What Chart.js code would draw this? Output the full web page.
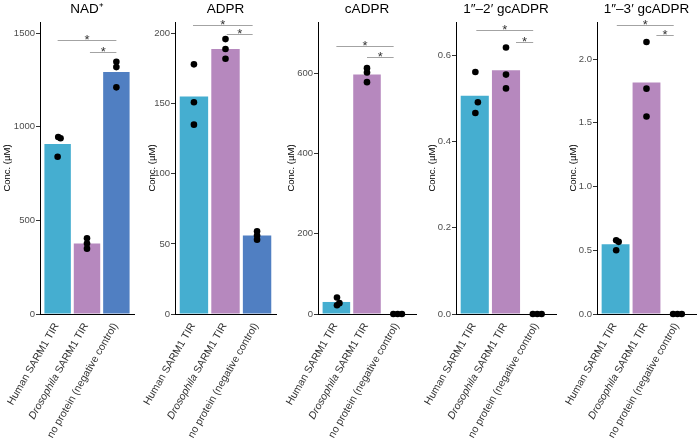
<!DOCTYPE html>
<html>
<head>
<meta charset="utf-8">
<script src="https://cdn.jsdelivr.net/npm/chart.js@4"></script>
<style>
  body { margin: 0; background: #fff; }
  #wrap { display: flex; width: 700px; height: 439px; }
  canvas { display: block; }
</style>
</head>
<body>
<div id="wrap">
  <canvas id="c0" width="140" height="439"></canvas>
  <canvas id="c1" width="140" height="439"></canvas>
  <canvas id="c2" width="140" height="439"></canvas>
  <canvas id="c3" width="140" height="439"></canvas>
  <canvas id="c4" width="140" height="439"></canvas>
</div>
<script>
const groups = ["Human SARM1 TIR", "Drosophila SARM1 TIR", "no protein (negative control)"];
const italicWords = ["Drosophila"];
const barColors = ["#45aed0", "#b688be", "#507fc2"];
const titles = ["NAD⁺", "ADPR", "cADPR", "1″–2′ gcADPR", "1″–3′ gcADPR"];

// bar heights (mean) and replicate dots
const nadBars = [908, 377, 1293];
const nadDots = [[946, 939, 840], [405, 376, 349], [1348, 1319, 1211]];
const adprBars = [155, 189, 56];
const adprDots = [[178, 151, 135], [196, 189, 182], [59, 56, 53]];
const cadprBars = [30, 597, 0];
const cadprDots = [[41, 27, 22], [613, 602, 578], [0, 0, 0]];
const gc12Bars = [0.506, 0.565, 0];
const gc12Dots = [[0.561, 0.491, 0.466], [0.618, 0.555, 0.523], [0, 0, 0]];
const gc13Bars = [0.548, 1.817, 0];
const gc13Dots = [[0.579, 0.566, 0.5], [2.134, 1.768, 1.55], [0, 0, 0]];

// small horizontal dodge of the dots (x units)
const nadJitter = [[0.02, 0.1, 0], [0, 0, 0], [0, 0, 0]];
const plainJitter = [[0, 0, 0], [0, 0, 0], [0, 0, 0]];
const zeroJitter = [[0.02, 0.1, 0.02], [0, 0, 0], [-0.14, 0, 0.14]];

// y axis ranges and tick labels
const nadMax = 1560, adprMax = 208.2, cadprMax = 728, gc12Max = 0.677, gc13Max = 2.291;
const nadTicks = ["0", "500", "1000", "1500"];
const adprTicks = ["0", "50", "100", "150", "200"];
const cadprTicks = ["0", "200", "400", "600"];
const gc12Ticks = ["0.0", "0.2", "0.4", "0.6"];
const gc13Ticks = ["0.0", "0.5", "1.0", "1.5", "2.0"];

// significance brackets: [from group, to group, height]
const nadSig = [[1, 3.0, 1462], [2.1, 3.0, 1398]];
const adprSig = [[0.97, 2.86, 206], [2.04, 2.86, 200]];
const cadprSig = [[1.0, 2.87, 667], [2.0, 2.87, 640]];
const gc12Sig = [[1.05, 2.87, 0.658], [2.32, 2.87, 0.630]];
const gc13Sig = [[1.04, 2.88, 2.268], [2.32, 2.88, 2.19]];

const panels = [
  { bars: nadBars, dots: nadDots, jit: nadJitter, max: nadMax, ticks: nadTicks, sig: nadSig, axisX: 40, padR: 6, titleX: 7 },
  { bars: adprBars, dots: adprDots, jit: plainJitter, max: adprMax, ticks: adprTicks, sig: adprSig, axisX: 35, padR: 3.5, titleX: 12 },
  { bars: cadprBars, dots: cadprDots, jit: zeroJitter, max: cadprMax, ticks: cadprTicks, sig: cadprSig, axisX: 38, padR: 1, titleX: 11 },
  { bars: gc12Bars, dots: gc12Dots, jit: zeroJitter, max: gc12Max, ticks: gc12Ticks, sig: gc12Sig, axisX: 36, padR: 2, titleX: 12 },
  { bars: gc13Bars, dots: gc13Dots, jit: zeroJitter, max: gc13Max, ticks: gc13Ticks, sig: gc13Sig, axisX: 37, padR: 1, titleX: 13 }
];

const FONT = "'Liberation Sans', Arial, sans-serif";

const decor = {
  id: "decor",
  afterDraw(chart, args, opts) {
    const { ctx, chartArea, scales: { x, y } } = chart;
    ctx.save();
    // panel title
    ctx.fillStyle = "#000";
    ctx.font = "13.5px " + FONT;
    ctx.textAlign = "center";
    ctx.textBaseline = "middle";
    ctx.fillText(opts.title, (chartArea.left + chartArea.right) / 2, 9);

    // significance brackets
    opts.sig.forEach(s => {
      const x1 = x.getPixelForValue(s[0]), x2 = x.getPixelForValue(s[1]);
      const py = Math.round(y.getPixelForValue(s[2])) + 0.5;
      ctx.strokeStyle = "#999";
      ctx.lineWidth = 0.9;
      ctx.beginPath();
      ctx.moveTo(x1, py);
      ctx.lineTo(x2, py);
      ctx.stroke();
      ctx.fillStyle = "#333";
      ctx.font = "13px " + FONT;
      ctx.textBaseline = "alphabetic";
      ctx.fillText("*", (x1 + x2) / 2, py + 3);
    });

    // rotated group labels, italic genus name
    ctx.fillStyle = "#333";
    ctx.textBaseline = "middle";
    ctx.textAlign = "left";
    groups.forEach((g, i) => {
      const px = x.getPixelForValue(i + 1);
      const parts = [];
      let rest = g;
      italicWords.forEach(w => {
        if (rest.startsWith(w)) { parts.push([w, true]); rest = rest.slice(w.length); }
      });
      parts.push([rest, false]);
      let total = 0;
      parts.forEach(p => {
        ctx.font = (p[1] ? "italic " : "") + "10.5px " + FONT;
        total += ctx.measureText(p[0]).width;
      });
      ctx.save();
      ctx.translate(px - 1, chartArea.bottom + 10);
      ctx.rotate(-Math.PI / 3);
      let cx = -total;
      parts.forEach(p => {
        ctx.font = (p[1] ? "italic " : "") + "10.5px " + FONT;
        ctx.fillText(p[0], cx, 0);
        cx += ctx.measureText(p[0]).width;
      });
      ctx.restore();
    });
    ctx.restore();
  }
};

panels.forEach((p, k) => {
  const step = p.max < 1 ? 0.2 : (p.max < 3 ? 0.5 : (p.max < 300 ? 50 : (p.max < 1000 ? 200 : 500)));
  const barData = p.bars.map((v, i) => ({ x: i + 1, y: v }));
  const dotData = [];
  p.dots.forEach((arr, i) => arr.forEach((v, j) => dotData.push({ x: i + 1 + p.jit[i][j], y: v })));

  new Chart(document.getElementById("c" + k), {
    type: "bar",
    data: {
      datasets: [
        {
          type: "bar",
          data: barData,
          backgroundColor: barColors,
          borderWidth: 0,
          barPercentage: 0.9,
          categoryPercentage: 1,
          order: 2
        },
        {
          type: "scatter",
          data: dotData,
          backgroundColor: "#000",
          borderWidth: 0,
          pointRadius: 3.3,
          clip: false,
          order: 1
        }
      ]
    },
    options: {
      responsive: false,
      animation: false,
      devicePixelRatio: 1,
      layout: { padding: { top: 22, right: p.padR, left: 0, bottom: 0 } },
      plugins: {
        legend: { display: false },
        tooltip: { enabled: false },
        decor: { title: titles[k], sig: p.sig }
      },
      scales: {
        x: {
          type: "linear",
          min: 0.4,
          max: 3.6,
          offset: false,
          ticks: { display: false },
          grid: { display: false, offset: false },
          border: { display: true, color: "#000", width: 1 },
          afterFit: s => { s.height = 125; }
        },
        y: {
          min: 0,
          max: p.max,
          afterBuildTicks: s => { s.ticks = p.ticks.map((t, i) => ({ value: i * step })); },
          ticks: {
            callback: (v, i) => p.ticks[i],
            color: "#4d4d4d",
            font: { size: 9.5, family: FONT },
            padding: 1
          },
          grid: { display: true, drawOnChartArea: false, tickLength: 4, color: "#333" },
          border: { display: true, color: "#000", width: 1 },
          title: {
            display: true,
            text: "Conc. (µM)",
            color: "#000",
            font: { size: 9.5, family: FONT },
            padding: { top: p.titleX - 5.7, bottom: 0 }
          },
          afterFit: s => { s.width = p.axisX; }
        }
      }
    },
    plugins: [decor]
  });
});
</script>
</body>
</html>
